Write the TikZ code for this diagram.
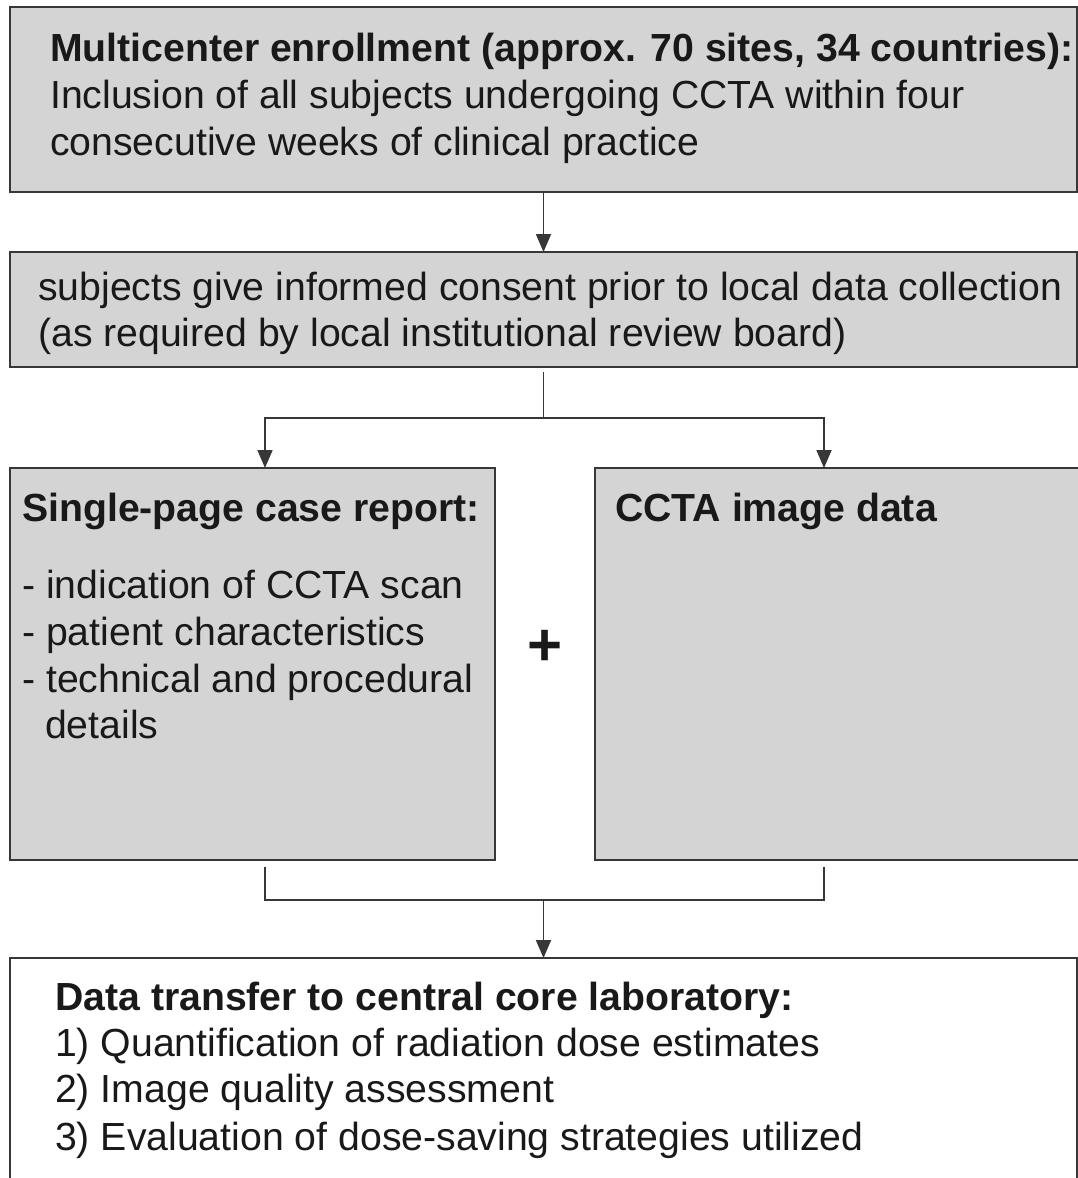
\documentclass[tikz,border=0pt]{standalone}
\usepackage{fontspec}
\setmainfont{Liberation Sans}
\usetikzlibrary{arrows.meta}
\definecolor{boxgray}{RGB}{212,212,212}
\definecolor{linegray}{RGB}{55,55,55}
\definecolor{inkc}{RGB}{25,25,25}
\begin{document}
\begin{tikzpicture}[x=1pt,y=-1pt,
  box/.style={draw=linegray,line width=2pt,fill=boxgray,anchor=north west,inner sep=0pt,outer sep=0pt},
  wbox/.style={box,fill=white},
  txt/.style={anchor=base west,inner sep=0pt,text=inkc,font=\fontsize{39.2}{47}\selectfont},
  btxt/.style={txt,font=\fontsize{39.2}{47}\selectfont\bfseries},
  conn/.style={draw=linegray,line width=1.8pt},
  arr/.style={conn,-{Triangle[length=18pt,width=15pt]}}]
\useasboundingbox (0,0) rectangle (1078,1178);
\clip (0,0) rectangle (1078,1178);
\fill[white] (0,0) rectangle (1078,1178);
% boxes
\node[box,minimum width=1067pt,minimum height=185pt] (b1) at (10,7) {};
\node[box,minimum width=1067pt,minimum height=115pt] (b2) at (10,252) {};
\node[box,minimum width=485pt,minimum height=392pt] (lb) at (10,468) {};
\node[box,minimum width=485pt,minimum height=392pt] (rb) at (595,468) {};
\node[wbox,minimum width=1067pt,minimum height=240pt] (b4) at (10,958) {};
% texts
\node[btxt] (t11) at (50,61) {Multicenter enrollment (approx. 70 sites, 34 countries):};
\node[txt] (t12) at (50,108) {Inclusion of all subjects undergoing CCTA within four};
\node[txt] (t13) at (50,155) {consecutive weeks of clinical practice};
\node[txt] (t21) at (38,300) {subjects give informed consent prior to local data collection};
\node[txt] (t22) at (38,346) {(as required by local institutional review board)};
\node[btxt] (t31) at (22,521) {Single-page case report:};
\node[txt] (t32) at (22,598) {- indication of CCTA scan};
\node[txt] (t33) at (22,645) {- patient characteristics};
\node[txt] (t34) at (22,692) {- technical and procedural};
\node[txt] (t35) at (45,738) {details};
\node[btxt] (t41) at (615,521) {CCTA image data};
\node[anchor=center,inner sep=0pt,text=inkc,font=\fontsize{60}{64}\selectfont\bfseries] (plus) at (545,648) {+};
\node[btxt] (t51) at (55,1010) {Data transfer to central core laboratory:};
\node[txt] (t52) at (55,1056) {1) Quantification of radiation dose estimates};
\node[txt] (t53) at (55,1102) {2) Image quality assessment};
\node[txt] (t54) at (55,1150) {3) Evaluation of dose-saving strategies utilized};
% connectors
\draw[arr] (b1.south) -- (b2.north);
\coordinate (sp) at (543.5,372);
\coordinate (jl) at (265,418);
\coordinate (jr) at (824,418);
\draw[conn] (sp) -- (sp |- jl);
\draw[arr] (sp |- jl) -- (jl) -- (jl |- lb.north);
\draw[arr] (sp |- jl) -- (jr) -- (jr |- rb.north);
\coordinate (ml) at (265,867);
\coordinate (mr) at (824,867);
\coordinate (mj) at (543.5,900);
\draw[conn] (ml) -- (ml |- mj) -- (mr |- mj) -- (mr);
\draw[arr] (mj) -- (b4.north);
\end{tikzpicture}
\end{document}
